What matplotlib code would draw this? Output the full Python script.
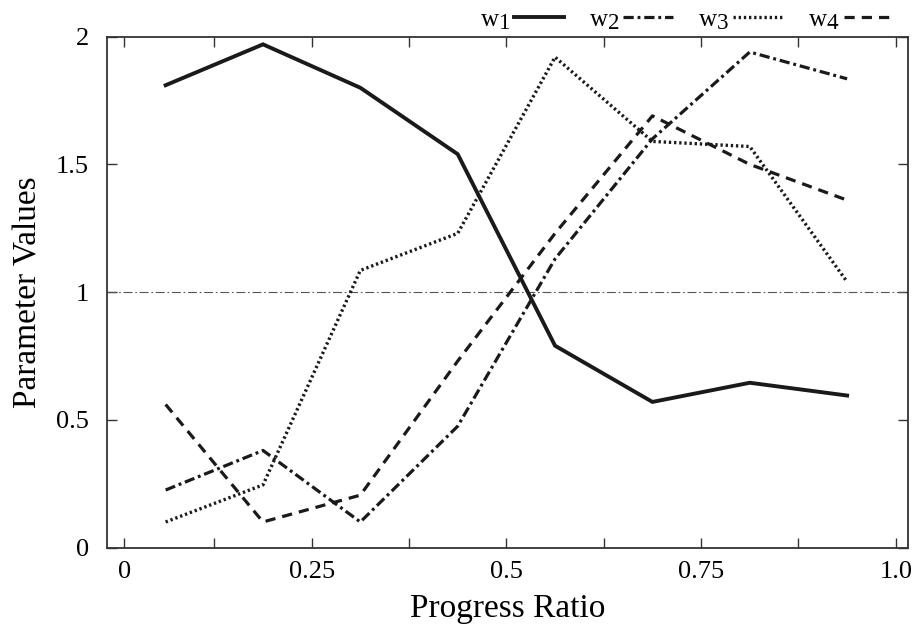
import matplotlib
matplotlib.use("Agg")
import matplotlib.pyplot as plt
import matplotlib._mathtext as mathtext_internal
import numpy as np

# progress ratio (segment midpoints) and the four weight series
progress = [0.0625, 0.1875, 0.3125, 0.4375, 0.5625, 0.6875, 0.8125, 0.9375]
w1 = [1.81, 1.97, 1.80, 1.54, 0.79, 0.57, 0.645, 0.595]
w2 = [0.225, 0.38, 0.10, 0.475, 1.13, 1.60, 1.94, 1.835]
w3 = [0.10, 0.245, 1.085, 1.23, 1.92, 1.59, 1.57, 1.04]
w4 = [0.56, 0.10, 0.205, 0.73, 1.23, 1.69, 1.50, 1.36]
labels = [r"w$_1$", r"w$_2$", r"w$_3$", r"w$_4$"]

xticks = [0.0094, 0.125, 0.25, 0.375, 0.5, 0.625, 0.75, 0.875, 1.0]
xticklabels = ["0", "", "0.25", "", "0.5", "", "0.75", "", "1.0"]
yticks = [0, 0.5, 1, 1.5, 2]
yticklabels = ["0", "0.5", "1", "1.5", "2"]

# gnuplot-like subscripts: nearly full size, just lowered
mathtext_internal.SHRINK_FACTOR = 0.92

plt.rcParams["font.family"] = ["Liberation Serif", "DejaVu Serif"]
plt.rcParams["mathtext.fontset"] = "custom"
plt.rcParams["mathtext.rm"] = "Liberation Serif"
plt.rcParams["mathtext.it"] = "Liberation Serif"

fig = plt.figure(figsize=(9.16, 6.25), dpi=100)
ax = fig.add_axes([0.1168, 0.124, 0.8745, 0.8173])

ink = "#1a1a1a"
ax.axhline(1.0, color="#555555", lw=0.8, dashes=(8, 2.5, 1.5, 2.5))

ax.plot(progress, w1, color=ink, lw=2.8, label=labels[0], solid_joinstyle="miter")
ax.plot(progress, w2, color=ink, lw=2.3, dashes=(3.2, 1.2, 0.9, 1.2), label=labels[1])
ax.plot(progress, w3, color=ink, lw=2.4, dashes=(0.7, 0.85), label=labels[2])
ax.plot(progress, w4, color=ink, lw=2.3, dashes=(3.2, 2.2), label=labels[3])

ax.set_xlim(-0.0128, 1.0157)
ax.set_ylim(0, 2)
ax.set_xticks(xticks)
ax.set_xticklabels(xticklabels)
ax.set_yticks(yticks)
ax.set_yticklabels(yticklabels)
ax.tick_params(direction="in", length=7, width=1, color="#333333",
               top=True, right=True, labelsize=19)
ax.tick_params(axis="x", pad=10)
ax.tick_params(axis="y", pad=13)
for s in ax.spines.values():
    s.set_linewidth(1.3)
    s.set_color("#333333")

ax.set_xlabel("Progress Ratio", fontsize=24, labelpad=7)
ax.set_ylabel("Parameter Values", fontsize=24, labelpad=9)

ax.legend(ncol=4, loc="lower right", bbox_to_anchor=(0.985, 1.005),
          frameon=False, markerfirst=False, fontsize=18,
          handlelength=2.0, handletextpad=0.15, columnspacing=1.0,
          borderaxespad=0, borderpad=0.1)

fig.savefig("out.png", dpi=100)
